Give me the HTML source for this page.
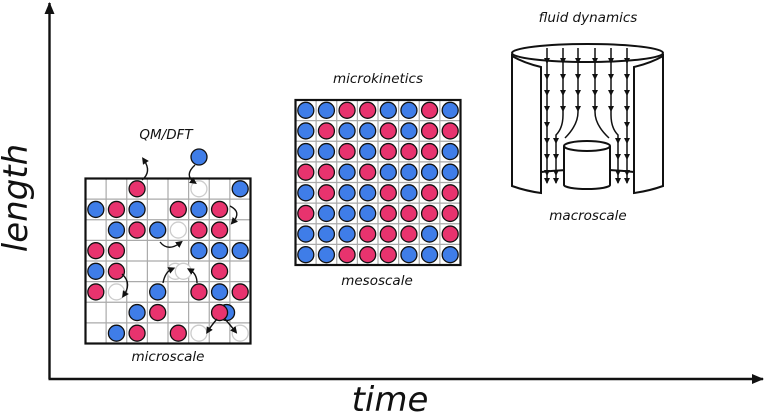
<!DOCTYPE html>
<html><head><meta charset="utf-8"><style>
body{margin:0;background:#fff}
svg{display:block}
text{font-family:"DejaVu Sans","Liberation Sans",sans-serif;font-style:italic;fill:#111}
</style></head><body>
<svg id="fig" width="765" height="415" viewBox="0 0 765 415">
<defs>
<marker id="ah" markerWidth="12" markerHeight="10" refX="11" refY="5" orient="auto" markerUnits="userSpaceOnUse"><path d="M0,0 L12,5 L0,10 Z" fill="#111"/></marker>
<marker id="sa" markerWidth="7" markerHeight="7" refX="3.5" refY="3.5" orient="auto" markerUnits="userSpaceOnUse"><path d="M0,0 L7,3.5 L0,7 Z" fill="#111"/></marker>
</defs>
<g>
<line x1="49.5" y1="379" x2="49.5" y2="3" stroke="#111" stroke-width="2.4" marker-end="url(#ah)"/>
<line x1="48.5" y1="379" x2="763" y2="379" stroke="#111" stroke-width="2.4" marker-end="url(#ah)"/>
<text transform="translate(27,198) rotate(-90)" text-anchor="middle" font-size="34">length</text>
<text x="390" y="411" text-anchor="middle" font-size="34">time</text>
</g>
<text x="166" y="139" text-anchor="middle" font-size="13.5">QM/DFT</text>
<text x="168" y="361" text-anchor="middle" font-size="13.5">microscale</text>
<text x="378" y="83" text-anchor="middle" font-size="13.5">microkinetics</text>
<text x="377" y="285" text-anchor="middle" font-size="13.5">mesoscale</text>
<text x="588" y="22" text-anchor="middle" font-size="13.5">fluid dynamics</text>
<text x="588" y="220" text-anchor="middle" font-size="13.5">macroscale</text>
<g id="micro"></g>
<g id="meso"></g>
<g stroke="#111" stroke-width="2" fill="#fff">
<ellipse cx="587.5" cy="53" rx="75.5" ry="9" fill="none"/>
<path d="M512,54 L512,186 Q526,191 541,193 L541,67 Q524,63 512,56" />
<path d="M663,54 L663,186 Q649,191 634,193 L634,67 Q651,63 663,56" />
<path d="M541,172 Q588,167 634,172" fill="none"/>
<ellipse cx="587" cy="185" rx="23" ry="4" fill="#fff"/>
<rect x="564" y="146" width="46" height="39" stroke="none"/>
<line x1="564" y1="146" x2="564" y2="185"/><line x1="610" y1="146" x2="610" y2="185"/>
<ellipse cx="587" cy="146" rx="23" ry="5"/>
</g>
<g id="flow" stroke="#111" stroke-width="1.5" fill="none"></g>
</svg>
<script>
const microRows=["__R__W_B","BRB_RBR_","_BRBWRR_","RR___BBB","BR__W_R_","RW_B_RBR","__BR__X_","_BR_RW_W"];
const mesoRows=["BBRRBBRB","BRBBRBRR","BBRBRRRB","RRBRBBBB","BRBBRBRR","RBBBRRRR","BBBRRRBR","BBRRRBBB"];
const colors={B:"#3f7de8",R:"#e8336e"};
const NS="http://www.w3.org/2000/svg";
function el(tag,attrs,parent){const e=document.createElementNS(NS,tag);for(const k in attrs)e.setAttribute(k,attrs[k]);parent.appendChild(e);return e;}
function atom(g,cx,cy,ch){
  const circ=el('circle',{cx:cx,cy:cy,r:8,fill:ch==='W'?'#fff':colors[ch],stroke:ch==='W'?'#ccc':'#111','stroke-width':1.3},g);
  
  
}
function grid(g,x0,y0,size,rows){
  const n=rows.length,c=size/n;
  for(let i=1;i<n;i++){
    el('line',{x1:x0,y1:y0+i*c,x2:x0+size,y2:y0+i*c,stroke:'#aaa','stroke-width':1.2},g);
    el('line',{x1:x0+i*c,y1:y0,x2:x0+i*c,y2:y0+size,stroke:'#aaa','stroke-width':1.2},g);
  }
  rows.forEach((row,r)=>{[...row].forEach((ch,col)=>{
    if(ch==='_')return;
    const cx=x0+(col+.5)*c,cy=y0+(r+.5)*c;
    if(ch==='X'){atom(g,cx+7,cy,'B');atom(g,cx,cy,'R');return;}
    if(ch==='W'&&r===4){atom(g,cx-3,cy,'W');atom(g,cx+5,cy,'W');return;}
    atom(g,cx,cy,ch);
  });});
  el('rect',{x:x0,y:y0,width:size,height:size,fill:'none',stroke:'#111','stroke-width':2.2},g);
}
grid(document.getElementById('micro'),85.5,178.5,165,microRows);
grid(document.getElementById('meso'),295.5,100,165,mesoRows);
const mg=document.getElementById('micro');
const extra=el('circle',{cx:199,cy:157,r:8,fill:colors.B,stroke:'#111','stroke-width':1.3},mg);


const hops=["M142,180 Q152,172 144,160","M195,165 Q184,175 194,182","M230,206 Q242,212 233,222","M160,242 Q168,252 180,243","M122,274 Q132,283 124,295","M163,283 Q165,272 172,269","M197,283 Q197,274 190,270","M217,319 Q211,326 208,331","M225,319 Q231,326 235,331"];
hops.forEach(d=>{const p=el('path',{d:d,fill:'none',stroke:'#111','stroke-width':1.4,'marker-end':'url(#sa)'},mg);

});
const flowX=[547,563,578,595,611,627];
const fg=document.getElementById('flow');
flowX.forEach((x,i)=>{
  let d;
  if(i===2) d=`M${x},48 L${x},112 Q${x},125 565,138`;
  else if(i===3) d=`M${x},48 L${x},112 Q${x},125 609,138`;
  else if(i===1) d=`M${x},48 L${x},115 Q${x},128 556,135 L556,183`;
  else if(i===4) d=`M${x},48 L${x},115 Q${x},128 618,135 L618,183`;
  else d=`M${x},48 L${x},183`;
  const p=el('path',{d:d},fg);
  
  
  const ys=[64,80,96,112,128,144,160,176,184];
  ys.forEach(y=>{
    let ax=x;
    if(i===1&&y>=135) ax=556; if(i===4&&y>=135) ax=618;
    if((i===2||i===3)&&y>112) return;
    if((i===1||i===4)&&y>115&&y<135) return;
    el('path',{d:`M${ax-3},${y-6} L${ax},${y} L${ax+3},${y-6} Z`,fill:'#111',stroke:'none'},fg);
  });
});
</script>
</body></html>
